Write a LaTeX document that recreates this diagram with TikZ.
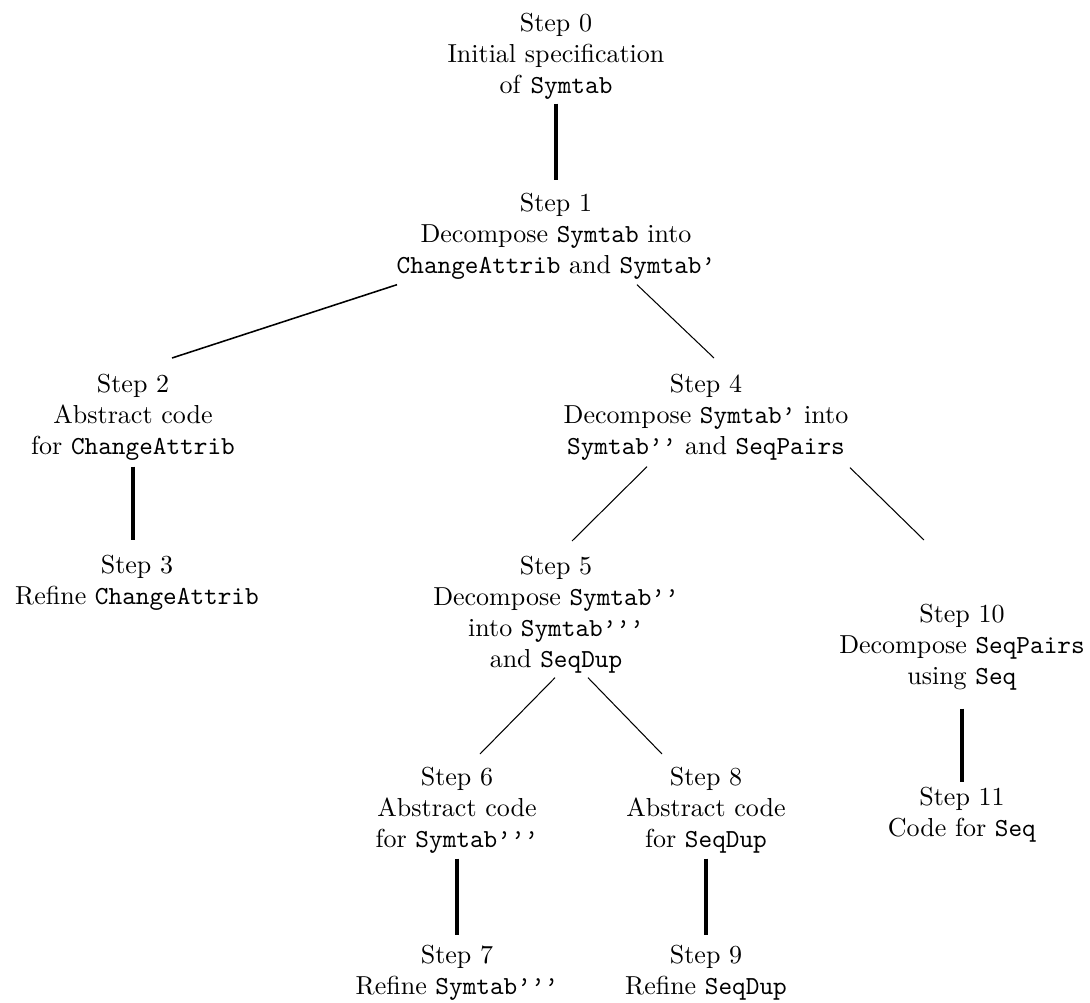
\documentclass[tikz,border=0pt]{standalone}
\usetikzlibrary{calc}
\begin{document}
\begin{tikzpicture}[x=0.3846pt,y=-0.3846pt,
  stepnode/.style={anchor=north,align=center,inner sep=0pt,outer sep=0pt,font=\normalsize},
  thickline/.style={line width=1.2pt},
  thinline/.style={line width=0.4pt},
  midline/.style={line width=0.6pt}]
\useasboundingbox (0,0) rectangle (1090,1003);
\node[stepnode] (n0) at (556,13) {Step 0\\Initial specification\\of \texttt{Symtab}};
\node[stepnode] (n1) at (556,193) {Step 1\\Decompose \texttt{Symtab} into\\\texttt{ChangeAttrib} and \texttt{Symtab’}};
\node[stepnode] (n2) at (133,374) {Step 2\\Abstract code\\for \texttt{ChangeAttrib}};
\node[stepnode] (n3) at (137,555) {Step 3\\Refine \texttt{ChangeAttrib}};
\node[stepnode] (n4) at (706,374) {Step 4\\Decompose \texttt{Symtab’} into\\\texttt{Symtab’’} and \texttt{SeqPairs}};
\node[stepnode] (n5) at (556,556) {Step 5\\Decompose \texttt{Symtab’’}\\into \texttt{Symtab’’’}\\and \texttt{SeqDup}};
\node[stepnode] (n10) at (962,604) {Step 10\\Decompose \texttt{SeqPairs}\\using \texttt{Seq}};
\node[stepnode] (n11) at (962,787) {Step 11\\Code for \texttt{Seq}};
\node[stepnode] (n6) at (457,767) {Step 6\\Abstract code\\for \texttt{Symtab’’’}};
\node[stepnode] (n8) at (706,767) {Step 8\\Abstract code\\for \texttt{SeqDup}};
\node[stepnode] (n7) at (457,945) {Step 7\\Refine \texttt{Symtab’’’}};
\node[stepnode] (n9) at (706,945) {Step 9\\Refine \texttt{SeqDup}};
% connectors
\draw[thickline] ($(n0.south)+(0,4)$) -- ($(n1.north)+(0,-13)$);
\draw[midline] ($(n1.south)+(-159,5)$) -- ($(n2.north)+(39,-16)$);
\draw[thinline] ($(n1.south)+(81,5)$) -- ($(n4.north)+(8,-16)$);
\draw[thickline] ($(n2.south)+(0,6)$) -- ($(n3.north)+(-4,-15)$);
\draw[thinline] ($(n4.south)+(-59,6)$) -- ($(n5.north)+(16,-15)$);
\draw[thinline] ($(n4.south)+(144,7)$) -- ($(n10.north)+(-38,-64)$);
\draw[thinline] ($(n5.south)+(-1,4)$) -- ($(n6.north)+(23,-13)$);
\draw[thinline] ($(n5.south)+(32,4)$) -- ($(n8.north)+(-44,-13)$);
\draw[thickline] ($(n10.south)+(0,18)$) -- ($(n11.north)+(0,-5)$);
\draw[thickline] ($(n6.south)+(0,5)$) -- ($(n7.north)+(0,-10)$);
\draw[thickline] ($(n8.south)+(0,5)$) -- ($(n9.north)+(0,-10)$);
\end{tikzpicture}
\end{document}
